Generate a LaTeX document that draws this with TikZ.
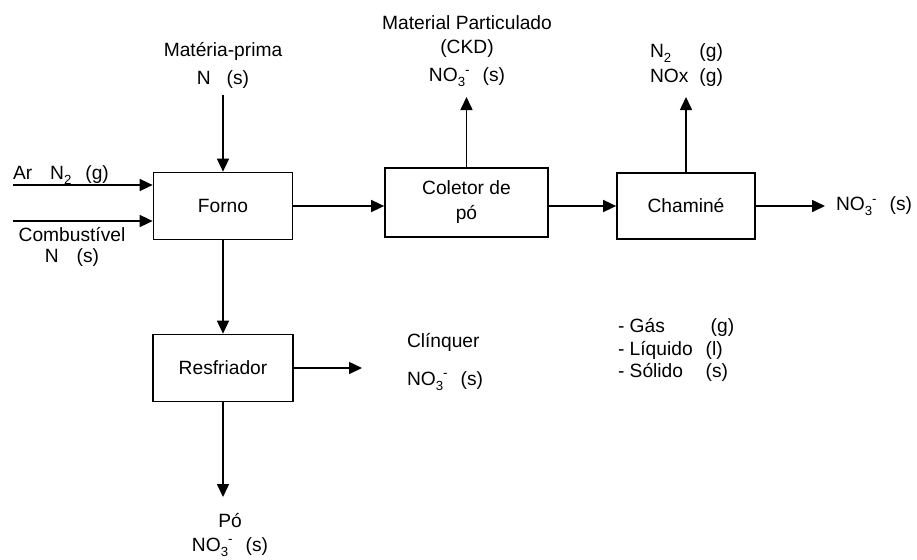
\documentclass[tikz,border=0pt]{standalone}
\usepackage{fontspec}
\setmainfont{Liberation Sans}
\usetikzlibrary{arrows.meta}
\newcommand{\indice}[1]{\raisebox{-2.6pt}{\fontsize{6.6}{7}\selectfont #1}}
\newcommand{\nitrato}{NO\indice{3}\textsuperscript{-}}
\tikzset{
  etapa/.style={draw, line width=0.85pt, align=center, inner sep=0pt},
  fluxo/.style={line width=0.8pt, -{Triangle[length=6.5pt,width=6pt]}},
  rotulo/.style={inner sep=0pt, outer sep=5pt, align=center},
}

\begin{document}
\begin{tikzpicture}[x=0.5pt, y=-0.5pt, font=\fontsize{9.6}{11.25}\selectfont]
     \useasboundingbox (0,0) rectangle (917,559);

     \node[etapa, minimum width=69.5pt, minimum height=33.5pt] (forno) at (223,206) {Forno};
     \node[etapa, minimum width=81.5pt, minimum height=34.5pt] (coletor) at (466.5,202.5) {Coletor de\\[1.25pt]pó};
     \node[etapa, minimum width=69pt, minimum height=33pt] (chamine) at (686,206) {Chaminé};
     \node[etapa, minimum width=70pt, minimum height=33.5pt] (resfriador) at (223,368) {Resfriador};

     % entradas do forno
     \node[rotulo, outer sep=3.5pt, anchor=south] (materia) at (223,95) {Matéria-prima\\[2.75pt]N\hspace{8pt}(s)};
     \coordinate (ar) at (13,185);
     \coordinate (comb) at (13,221);
     \node[rotulo, outer sep=0pt, anchor=base west] (arlbl) at (13,179) {Ar\hspace{9pt}N\indice{2}\hspace{7pt}(g)};
     \node[rotulo, outer sep=0pt, anchor=north] (comblbl) at (72,227) {Combustível\\[-0.75pt]N\hspace{9pt}(s)};
     \draw[fluxo] (materia.south) -- (materia.south |- forno.north);
     \draw[fluxo] (ar) -- (ar -| forno.west);
     \draw[fluxo] (comb) -- (comb -| forno.west);

     % linha principal
     \draw[fluxo] (forno.east) -- (forno.east -| coletor.west);
     \draw[fluxo] (coletor.east |- chamine.west) -- (chamine.west);
     \draw[fluxo] (forno.south) -- (resfriador.north);

     % saidas
     \node[rotulo, outer sep=5pt, anchor=south] (particulado) at (467,97) {Material Particulado\\[0.75pt](CKD)\\[2.75pt]\nitrato\hspace{6pt}(s)};
     \draw[fluxo] (coletor.north) -- (coletor.north |- particulado.south);
     \node[rotulo, outer sep=4pt, anchor=south] (gases) at (686.5,97) {\begin{tabular}{@{}l@{\hspace{5.5pt}}l@{}}N\indice{2} & (g)\\[1.25pt] NOx & (g)\end{tabular}};
     \draw[fluxo] (chamine.north) -- (chamine.north |- gases.south);
     \node[rotulo, outer sep=5.5pt, anchor=west] (emissao) at (825,206) {\nitrato\hspace{6pt}(s)};
     \draw[fluxo] (chamine.east) -- (emissao.west);

     \coordinate (clsaida) at (362,368);
     \draw[fluxo] (resfriador.east) -- (clsaida);
     \node[rotulo, outer sep=0pt, anchor=north west, align=left] (clinquer) at (407,333) {Clínquer\\[7.75pt]\nitrato\hspace{6pt}(s)};
     \node[rotulo, outer sep=8pt, anchor=north] (po) at (230,497) {Pó\\[0.75pt]\nitrato\hspace{6pt}(s)};
     \draw[fluxo] (resfriador.south) -- (resfriador.south |- po.north);

     % legenda
     \node[rotulo, outer sep=0pt, anchor=north west] (legenda) at (618,317) {\begin{tabular}{@{}l@{\hspace{6.5pt}}l@{}}- Gás & \hspace{2.5pt}(g)\\ - Líquido & (l)\\ - Sólido & (s)\end{tabular}};

   \end{tikzpicture}
\end{document}
